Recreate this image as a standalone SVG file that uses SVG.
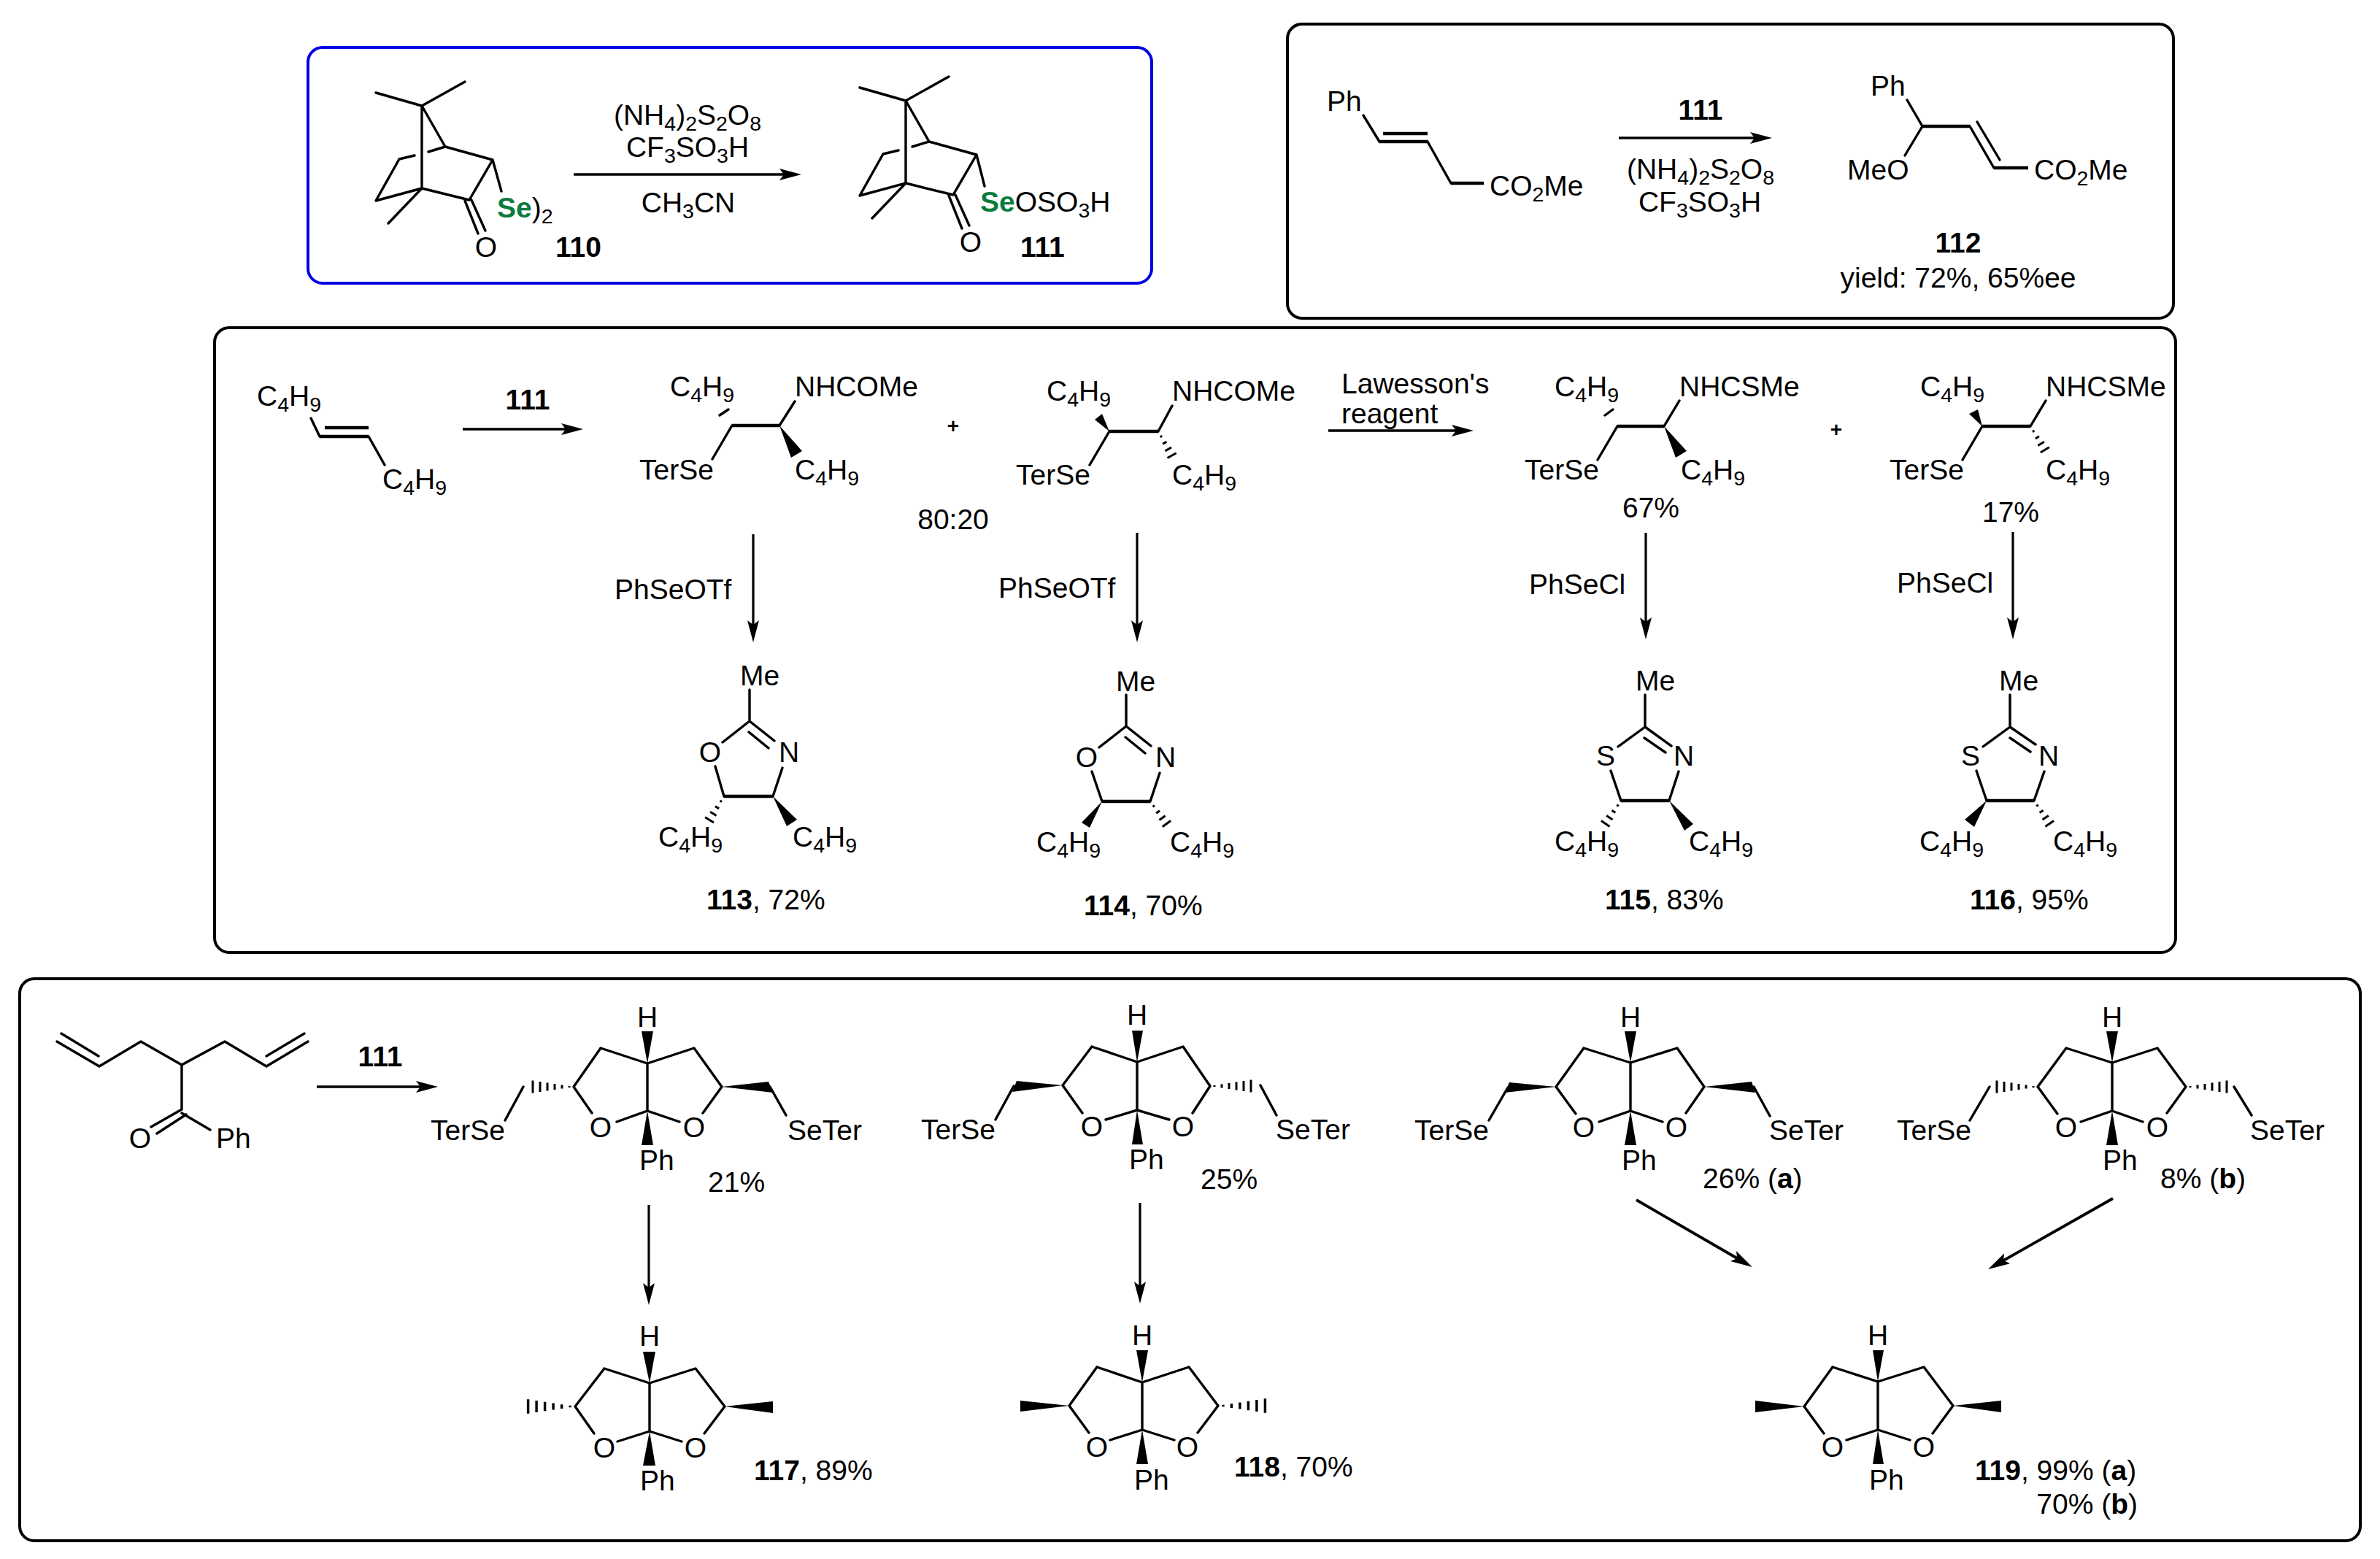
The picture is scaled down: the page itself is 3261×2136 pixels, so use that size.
<svg xmlns="http://www.w3.org/2000/svg" width="3261" height="2136" viewBox="0 0 3261 2136">
<defs>
<style>
text{font-family:"Liberation Sans",Arial,sans-serif;font-size:39px;fill:#000;transform:translateY(1px)}
.m{text-anchor:middle}
.e{text-anchor:end}
.t{font-weight:bold}
.s{font-size:28.5px}
.g{font-weight:bold;fill:#0c7b3e}
.f{fill:none;stroke:#000;stroke-width:4}
.bl{fill:none;stroke:#0000e6;stroke-width:4}
.b{fill:none;stroke:#000;stroke-width:3.4;stroke-linecap:round;stroke-linejoin:round}
.h{fill:none;stroke:#000;stroke-width:4.5}
.w{fill:#000;stroke:none}
.a{fill:none;stroke:#000;stroke-width:3.6}
.v{fill:none;stroke:#000;stroke-width:3.2}
.d{fill:none;stroke:#000;stroke-width:3.8}
.hs{fill:none;stroke:#000;stroke-width:3}
</style>
<marker id="ah" markerUnits="userSpaceOnUse" markerWidth="30" markerHeight="16" refX="22" refY="8" orient="auto"><path d="M0 0L30 8L0 16L6 8Z" fill="#000"/></marker>
<g id="hash" class="hs"><path d="M6,-1V1M16,-2.5V2.5M26,-4V4M36,-5.5V5.5M46,-7V7M56,-8.5V8.5"/></g>
<g id="hashs" class="hs"><path d="M8,-1.5V1.5M18,-3V3M28,-5V5M38,-7V7"/></g>
</defs>
<rect width="3261" height="2136" fill="#fff"/>
<g id="frames">
<rect id="frame-a" class="bl" x="422" y="65" width="1156" height="323" rx="20"/>
<rect id="frame-b" class="f" x="1764" y="33" width="1214" height="403" rx="20"/>
<rect id="frame-c" class="f" x="294" y="449" width="2687" height="856" rx="20"/>
<rect id="frame-d" class="f" x="27" y="1341" width="3207" height="770" rx="20"/>
</g>
<g id="connectors">
<line class="a" x1="786" y1="239" x2="1090" y2="239" marker-end="url(#ah)"/>
<line class="a" x1="2218" y1="189" x2="2420" y2="189" marker-end="url(#ah)"/>
<line class="a" x1="634" y1="588" x2="791" y2="588" marker-end="url(#ah)"/>
<line class="a" x1="1820" y1="590" x2="2011" y2="590" marker-end="url(#ah)"/>
<line class="v" x1="1032" y1="732" x2="1032" y2="872" marker-end="url(#ah)"/>
<line class="v" x1="1558" y1="730" x2="1558" y2="872" marker-end="url(#ah)"/>
<line class="v" x1="2255" y1="730" x2="2255" y2="868" marker-end="url(#ah)"/>
<line class="v" x1="2758" y1="729" x2="2758" y2="868" marker-end="url(#ah)"/>
<line class="a" x1="434" y1="1489" x2="592" y2="1489" marker-end="url(#ah)"/>
<line class="v" x1="889" y1="1651" x2="889" y2="1780" marker-end="url(#ah)"/>
<line class="v" x1="1562" y1="1648" x2="1562" y2="1778" marker-end="url(#ah)"/>
<line class="d" x1="2242" y1="1644" x2="2394" y2="1732" marker-end="url(#ah)"/>
<line class="d" x1="2895" y1="1642" x2="2731" y2="1735" marker-end="url(#ah)"/>
</g>
<g id="node-110">
<path class="b" d="M515,127L578,145L637,112M578,145L610,201L675,219L643,274L578,258L532,306M578,145V258M578,258L515,275L547,218L568,213M587,208L610,201M675,219L687,262M637,275L655,320M646,274L665,316"/>
<text x="681" y="297"><tspan class="g">Se</tspan>)<tspan class="s" dy="8">2</tspan></text>
<text class="m" x="666" y="351">O</text>
<text class="t" x="761" y="351">110</text>
</g>
<g id="reagents-110">
<text class="m" x="942" y="170">(NH<tspan class="s" dy="8">4</tspan><tspan dy="-8">)</tspan><tspan class="s" dy="8">2</tspan><tspan dy="-8">S</tspan><tspan class="s" dy="8">2</tspan><tspan dy="-8">O</tspan><tspan class="s" dy="8">8</tspan></text>
<text class="m" x="942" y="214">CF<tspan class="s" dy="8">3</tspan><tspan dy="-8">SO</tspan><tspan class="s" dy="8">3</tspan><tspan dy="-8">H</tspan></text>
<text class="m" x="943" y="290">CH<tspan class="s" dy="8">3</tspan><tspan dy="-8">CN</tspan></text>
</g>
<g id="node-111">
<path class="b" d="M1178,120L1241,138L1300,105M1241,138L1273,194L1338,212L1306,267L1241,251L1195,299M1241,138V251M1241,251L1178,268L1210,211L1231,206M1250,201L1273,194M1338,212L1349,255M1300,268L1318,313M1309,267L1328,309"/>
<text x="1343" y="289"><tspan class="g">Se</tspan>OSO<tspan class="s" dy="8">3</tspan><tspan dy="-8">H</tspan></text>
<text class="m" x="1330" y="344">O</text>
<text class="t" x="1398" y="351">111</text>
</g>
<g id="node-substrate-112">
<text x="1818" y="151">Ph</text>
<path class="b" d="M1868,158L1890,194M1956,194L1988,251"/>
<path class="h" d="M1890,194H1956M1895,183H1956M1988,251H2033"/>
<text x="2041" y="267">CO<tspan class="s" dy="8">2</tspan><tspan dy="-8">Me</tspan></text>
</g>
<g id="reagents-112">
<text class="m t" x="2330" y="163">111</text>
<text class="m" x="2330" y="244">(NH<tspan class="s" dy="8">4</tspan><tspan dy="-8">)</tspan><tspan class="s" dy="8">2</tspan><tspan dy="-8">S</tspan><tspan class="s" dy="8">2</tspan><tspan dy="-8">O</tspan><tspan class="s" dy="8">8</tspan></text>
<text class="m" x="2329" y="289">CF<tspan class="s" dy="8">3</tspan><tspan dy="-8">SO</tspan><tspan class="s" dy="8">3</tspan><tspan dy="-8">H</tspan></text>
</g>
<g id="node-112">
<text x="2563" y="130">Ph</text>
<text x="2531" y="245">MeO</text>
<text x="2787" y="245">CO<tspan class="s" dy="8">2</tspan><tspan dy="-8">Me</tspan></text>
<path class="b" d="M2613,137L2634,173L2610,213M2699,173L2732,230M2709,167L2740,219"/>
<path class="h" d="M2634,173H2699M2732,230H2779"/>
<text class="m t" x="2683" y="345">112</text>
<text class="m" x="2683" y="393">yield: 72%, 65%ee</text>
</g>
<g id="node-alkene">
<text x="352" y="555">C<tspan class="s" dy="8">4</tspan><tspan dy="-8">H</tspan><tspan class="s" dy="8">9</tspan></text>
<path class="b" d="M426,573L438,598M505,598L527,637"/>
<path class="h" d="M438,598H505M445,586H505"/>
<text x="524" y="669">C<tspan class="s" dy="8">4</tspan><tspan dy="-8">H</tspan><tspan class="s" dy="8">9</tspan></text>
<text class="m t" x="723" y="560">111</text>
</g>
<g id="node-amide-a">
<text x="918" y="542">C<tspan class="s" dy="8">4</tspan><tspan dy="-8">H</tspan><tspan class="s" dy="8">9</tspan></text>
<text x="1089" y="542">NHCOMe</text>
<path class="b" d="M986,569L998,561M1003,583L976,629M1068,583L1089,550"/>
<path class="h" d="M1003,583H1068"/>
<polygon class="w" points="1068,583 1099,618 1084,627"/>
<text x="876" y="656">TerSe</text>
<text x="1089" y="656">C<tspan class="s" dy="8">4</tspan><tspan dy="-8">H</tspan><tspan class="s" dy="8">9</tspan></text>
</g>
<g id="plus-1"><text class="m t" x="1306" y="592" style="font-size:28px">+</text></g>
<g id="node-amide-b">
<text x="1434" y="548">C<tspan class="s" dy="8">4</tspan><tspan dy="-8">H</tspan><tspan class="s" dy="8">9</tspan></text>
<text x="1606" y="548">NHCOMe</text>
<polygon class="w" points="1520,591 1500,575 1510,567"/>
<path class="b" d="M1520,591L1493,637M1587,591L1606,556"/>
<path class="h" d="M1520,591H1587"/>
<use href="#hashs" transform="translate(1587,591) rotate(60.7)"/>
<text x="1392" y="663">TerSe</text>
<text x="1606" y="663">C<tspan class="s" dy="8">4</tspan><tspan dy="-8">H</tspan><tspan class="s" dy="8">9</tspan></text>
</g>
<g id="labels-mid">
<text class="m" x="1306" y="724">80:20</text>
<text x="842" y="820">PhSeOTf</text>
<text x="1368" y="818">PhSeOTf</text>
<text x="1838" y="538">Lawesson's</text>
<text x="1838" y="579">reagent</text>
<text x="2095" y="813">PhSeCl</text>
<text x="2599" y="811">PhSeCl</text>
</g>
<g id="node-thio-c">
<text x="2130" y="542">C<tspan class="s" dy="8">4</tspan><tspan dy="-8">H</tspan><tspan class="s" dy="8">9</tspan></text>
<text x="2301" y="542">NHCSMe</text>
<path class="b" d="M2199,569L2210,561M2216,584L2189,630M2280,584L2301,549"/>
<path class="h" d="M2216,584H2280"/>
<polygon class="w" points="2280,584 2311,618 2296,627"/>
<text x="2089" y="656">TerSe</text>
<text x="2303" y="656">C<tspan class="s" dy="8">4</tspan><tspan dy="-8">H</tspan><tspan class="s" dy="8">9</tspan></text>
<text class="m" x="2262" y="708">67%</text>
</g>
<g id="plus-2"><text class="m t" x="2516" y="597" style="font-size:28px">+</text></g>
<g id="node-thio-d">
<text x="2631" y="542">C<tspan class="s" dy="8">4</tspan><tspan dy="-8">H</tspan><tspan class="s" dy="8">9</tspan></text>
<text x="2803" y="542">NHCSMe</text>
<polygon class="w" points="2716,584 2698,567 2710,561"/>
<path class="b" d="M2716,584L2689,630M2782,584L2803,549"/>
<path class="h" d="M2716,584H2782"/>
<use href="#hashs" transform="translate(2782,584) rotate(58.6)"/>
<text x="2589" y="656">TerSe</text>
<text x="2803" y="656">C<tspan class="s" dy="8">4</tspan><tspan dy="-8">H</tspan><tspan class="s" dy="8">9</tspan></text>
<text class="m" x="2755" y="714">17%</text>
</g>
<g id="node-113">
<text x="1014" y="938">Me</text>
<path class="b" d="M1027,945V988L990,1017M1027,988L1061,1015M1026,1003L1053,1025M980,1050L992,1091M1059,1091L1072,1052"/>
<path class="h" d="M992,1091H1059"/>
<text class="m" x="973" y="1043">O</text>
<text class="m" x="1081" y="1043">N</text>
<polygon class="w" points="1059,1091 1092,1123 1078,1132"/>
<use href="#hashs" transform="translate(992,1091) rotate(121.7)"/>
<text x="902" y="1159">C<tspan class="s" dy="8">4</tspan><tspan dy="-8">H</tspan><tspan class="s" dy="8">9</tspan></text>
<text x="1086" y="1159">C<tspan class="s" dy="8">4</tspan><tspan dy="-8">H</tspan><tspan class="s" dy="8">9</tspan></text>
<text x="968" y="1245"><tspan class="t">113</tspan>, 72%</text>
</g>
<g id="node-114">
<text x="1529" y="946">Me</text>
<path class="b" d="M1543,952V995L1506,1024M1543,995L1577,1022M1542,1010L1569,1032M1496,1057L1510,1098M1576,1098L1589,1059"/>
<path class="h" d="M1510,1098H1576"/>
<text class="m" x="1489" y="1050">O</text>
<text class="m" x="1597" y="1050">N</text>
<polygon class="w" points="1510,1098 1482,1127 1493,1134"/>
<use href="#hashs" transform="translate(1576,1098) rotate(53.9)"/>
<text x="1420" y="1166">C<tspan class="s" dy="8">4</tspan><tspan dy="-8">H</tspan><tspan class="s" dy="8">9</tspan></text>
<text x="1603" y="1166">C<tspan class="s" dy="8">4</tspan><tspan dy="-8">H</tspan><tspan class="s" dy="8">9</tspan></text>
<text x="1485" y="1253"><tspan class="t">114</tspan>, 70%</text>
</g>
<g id="node-115">
<text x="2241" y="945">Me</text>
<path class="b" d="M2254,952V996L2217,1023M2254,996L2290,1022M2253,1011L2282,1031M2207,1056L2221,1097M2287,1097L2300,1057"/>
<path class="h" d="M2221,1097H2287"/>
<text class="m" x="2200" y="1048">S</text>
<text class="m" x="2307" y="1048">N</text>
<polygon class="w" points="2287,1097 2320,1129 2308,1138"/>
<use href="#hashs" transform="translate(2221,1097) rotate(124)"/>
<text x="2130" y="1165">C<tspan class="s" dy="8">4</tspan><tspan dy="-8">H</tspan><tspan class="s" dy="8">9</tspan></text>
<text x="2314" y="1165">C<tspan class="s" dy="8">4</tspan><tspan dy="-8">H</tspan><tspan class="s" dy="8">9</tspan></text>
<text x="2199" y="1245"><tspan class="t">115</tspan>, 83%</text>
</g>
<g id="node-116">
<text x="2739" y="945">Me</text>
<path class="b" d="M2754,952V996L2717,1023M2754,996L2789,1020M2754,1011L2782,1030M2708,1056L2722,1097M2787,1097L2801,1057"/>
<path class="h" d="M2722,1097H2787"/>
<text class="m" x="2700" y="1048">S</text>
<text class="m" x="2807" y="1048">N</text>
<polygon class="w" points="2722,1097 2692,1123 2705,1133"/>
<use href="#hashs" transform="translate(2787,1097) rotate(56)"/>
<text x="2630" y="1165">C<tspan class="s" dy="8">4</tspan><tspan dy="-8">H</tspan><tspan class="s" dy="8">9</tspan></text>
<text x="2813" y="1165">C<tspan class="s" dy="8">4</tspan><tspan dy="-8">H</tspan><tspan class="s" dy="8">9</tspan></text>
<text x="2699" y="1245"><tspan class="t">116</tspan>, 95%</text>
</g>
<g id="node-diene">
<path class="b" d="M78,1427L136,1461L193,1427L249,1459L308,1427L365,1461L422,1427M84,1416L135,1447M365,1447L417,1416M249,1459V1520M249,1520L207,1544M255,1527L215,1553M249,1525L288,1548"/>
<text class="m" x="192" y="1572">O</text>
<text x="296" y="1572">Ph</text>
<text class="m t" x="521" y="1460">111</text>
</g>
<g id="node-bicycle-a">
<path class="b" d="M823,1436L887,1457L951,1436L989,1489L963,1525M823,1436L786,1489L811,1525M887,1457V1522M845,1537L887,1522L931,1537M1055,1489L1077,1528M717,1489L692,1535"/>
<polygon class="w" points="887,1457 879,1413 895,1413"/>
<polygon class="w" points="887,1522 879,1569 895,1569"/>
<polygon class="w" points="989,1489 1053,1482 1059,1497"/>
<use href="#hash" transform="translate(786,1489) rotate(180)"/>
<text class="m" x="887" y="1406">H</text>
<text class="m" x="823" y="1557">O</text>
<text class="m" x="951" y="1557">O</text>
<text x="876" y="1602">Ph</text>
<text x="590" y="1561">TerSe</text>
<text x="1079" y="1561">SeTer</text>
<text x="970" y="1632">21%</text>
</g>
<g id="node-bicycle-b">
<path class="b" d="M1496,1434L1558,1455L1621,1434L1658,1488L1634,1525M1496,1434L1456,1487L1483,1525M1558,1455V1521M1515,1534L1558,1521L1602,1534M1389,1488L1364,1534M1727,1487L1749,1528"/>
<polygon class="w" points="1558,1455 1551,1412 1566,1412"/>
<polygon class="w" points="1558,1521 1551,1568 1566,1568"/>
<polygon class="w" points="1456,1487 1393,1481 1387,1496"/>
<use href="#hash" transform="translate(1658,1488)"/>
<text class="m" x="1558" y="1403">H</text>
<text class="m" x="1496" y="1556">O</text>
<text class="m" x="1621" y="1556">O</text>
<text x="1547" y="1601">Ph</text>
<text x="1262" y="1560">TerSe</text>
<text x="1748" y="1560">SeTer</text>
<text x="1645" y="1628">25%</text>
</g>
<g id="node-bicycle-c">
<path class="b" d="M2170,1436L2234,1456L2298,1436L2335,1489L2310,1525M2170,1436L2132,1489L2159,1526M2234,1456V1522M2191,1537L2234,1522L2278,1537M2066,1490L2040,1535M2403,1489L2425,1529"/>
<polygon class="w" points="2234,1456 2226,1413 2242,1413"/>
<polygon class="w" points="2234,1522 2226,1569 2242,1569"/>
<polygon class="w" points="2132,1489 2068,1483 2062,1497"/>
<polygon class="w" points="2335,1489 2400,1482 2405,1497"/>
<text class="m" x="2234" y="1406">H</text>
<text class="m" x="2170" y="1557">O</text>
<text class="m" x="2297" y="1557">O</text>
<text x="2222" y="1602">Ph</text>
<text x="1938" y="1561">TerSe</text>
<text x="2424" y="1561">SeTer</text>
<text x="2333" y="1627">26% (<tspan class="t">a</tspan>)</text>
</g>
<g id="node-bicycle-d">
<path class="b" d="M2831,1436L2894,1456L2956,1436L2995,1489L2969,1525M2831,1436L2792,1489L2819,1526M2894,1456V1522M2851,1537L2894,1522L2936,1537M2726,1489L2699,1535M3061,1489L3085,1528"/>
<polygon class="w" points="2894,1456 2886,1413 2902,1413"/>
<polygon class="w" points="2894,1522 2886,1569 2902,1569"/>
<use href="#hash" transform="translate(2792,1489) rotate(180)"/>
<use href="#hash" transform="translate(2995,1489)"/>
<text class="m" x="2894" y="1406">H</text>
<text class="m" x="2831" y="1557">O</text>
<text class="m" x="2956" y="1557">O</text>
<text x="2881" y="1602">Ph</text>
<text x="2599" y="1561">TerSe</text>
<text x="3083" y="1561">SeTer</text>
<text x="2960" y="1627">8% (<tspan class="t">b</tspan>)</text>
</g>
<g id="node-117">
<path class="b" d="M828,1875L890,1895L953,1875L993,1927L965,1964M828,1875L788,1927L814,1964M890,1895V1961M846,1975L890,1961L934,1975"/>
<polygon class="w" points="890,1895 881,1852 898,1852"/>
<polygon class="w" points="890,1961 881,2008 898,2008"/>
<polygon class="w" points="993,1927 1059,1920 1059,1936"/>
<use href="#hash" transform="translate(788,1927) rotate(180) scale(1.15)"/>
<text class="m" x="890" y="1843">H</text>
<text class="m" x="828" y="1996">O</text>
<text class="m" x="953" y="1996">O</text>
<text x="877" y="2041">Ph</text>
<text x="1033" y="2027"><tspan class="t">117</tspan>, 89%</text>
</g>
<g id="node-118">
<path class="b" d="M1503,1873L1565,1894L1629,1873L1669,1926L1641,1963M1503,1873L1465,1926L1492,1963M1565,1894V1959M1521,1973L1565,1959L1609,1973"/>
<polygon class="w" points="1565,1894 1557,1850 1573,1850"/>
<polygon class="w" points="1565,1959 1557,2006 1573,2006"/>
<polygon class="w" points="1465,1926 1398,1919 1398,1934"/>
<use href="#hash" transform="translate(1669,1926) scale(1.15)"/>
<text class="m" x="1565" y="1842">H</text>
<text class="m" x="1503" y="1995">O</text>
<text class="m" x="1627" y="1995">O</text>
<text x="1554" y="2040">Ph</text>
<text x="1691" y="2022"><tspan class="t">118</tspan>, 70%</text>
</g>
<g id="node-119">
<path class="b" d="M2511,1873L2573,1893L2636,1873L2676,1926L2648,1964M2511,1873L2472,1927L2499,1964M2573,1893V1959M2530,1973L2573,1959L2617,1973"/>
<polygon class="w" points="2573,1893 2566,1850 2581,1850"/>
<polygon class="w" points="2573,1959 2566,2006 2581,2006"/>
<polygon class="w" points="2472,1927 2405,1919 2405,1935"/>
<polygon class="w" points="2676,1926 2742,1919 2742,1935"/>
<text class="m" x="2573" y="1842">H</text>
<text class="m" x="2511" y="1995">O</text>
<text class="m" x="2636" y="1995">O</text>
<text x="2561" y="2040">Ph</text>
<text x="2706" y="2027"><tspan class="t">119</tspan>, 99% (<tspan class="t">a</tspan>)</text>
<text class="e" x="2929" y="2073">70% (<tspan class="t">b</tspan>)</text>
</g>
</svg>
